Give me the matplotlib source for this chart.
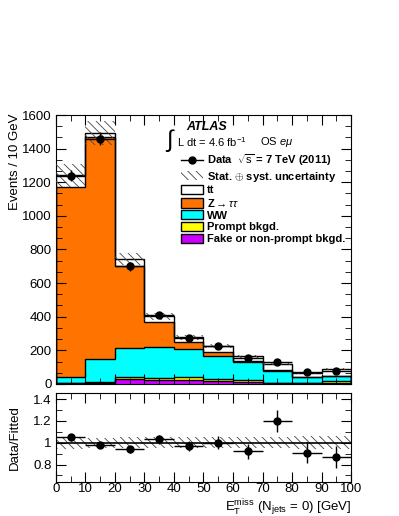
import numpy as np
import matplotlib
matplotlib.use("Agg")
import matplotlib.pyplot as plt
from matplotlib.patches import Patch
from matplotlib.lines import Line2D
from matplotlib.ticker import MultipleLocator, AutoMinorLocator

plt.rcParams['font.family'] = ['Liberation Sans', 'DejaVu Sans']
plt.rcParams['mathtext.fontset'] = 'custom'
plt.rcParams['mathtext.rm'] = 'Liberation Sans'
plt.rcParams['mathtext.it'] = 'Liberation Sans:italic'
plt.rcParams['hatch.linewidth'] = 0.6

# bin edges (GeV)
edges = np.arange(0, 110, 10)

# cumulative stack tops
fake = [4, 6, 28, 22, 26, 16, 10, 5, 3, 5]
prompt = [8, 10, 42, 34, 42, 30, 26, 8, 6, 20]
ww = [40, 148, 214, 218, 208, 168, 130, 79, 40, 46]
ztt = [1170, 1467, 699, 370, 247, 190, 138, 82, 42, 48]
ttbar = [1243, 1495, 743, 402, 277, 228, 164, 121, 65, 89]
unc_rel = [0.055, 0.047, 0.05, 0.05, 0.05, 0.05, 0.05, 0.05, 0.06, 0.06]

data = [1240, 1460, 700, 410, 272, 228, 155, 132, 68, 76]
ratio = [1.05, 0.98, 0.94, 1.03, 0.97, 1.00, 0.92, 1.20, 0.91, 0.87]
ratio_err = [0.03, 0.03, 0.03, 0.04, 0.05, 0.06, 0.07, 0.10, 0.10, 0.10]

fig = plt.figure(figsize=(3.99, 5.16), dpi=100)
ax = fig.add_axes([0.140, 0.256, 0.740, 0.521])
rax = fig.add_axes([0.140, 0.066, 0.740, 0.172])

layers = [(ttbar, 'white'), (ztt, '#ff7400'), (ww, '#00ffff'),
          (prompt, '#ffff00'), (fake, '#cc00ff')]
for vals, col in layers:
    ax.stairs(vals, edges, fill=True, color=col, zorder=1)
    ax.stairs(vals, edges, color='black', lw=1.0, zorder=2)

tot = np.array(ttbar, dtype=float)
err = tot * np.array(unc_rel)
ax.stairs(tot + err, edges, baseline=tot - err, fill=True, facecolor='none',
          edgecolor='#444444', hatch='\\\\\\\\', lw=0, zorder=3)

centers = 0.5 * (edges[:-1] + edges[1:])
ax.errorbar(centers, data, yerr=np.sqrt(data), xerr=5, fmt='o', color='black',
            ms=5, lw=1, capsize=0, zorder=5)

ax.set_xlim(0, 100)
ax.set_ylim(0, 1600)
ax.yaxis.set_major_locator(MultipleLocator(200))
ax.yaxis.set_minor_locator(AutoMinorLocator(3))
ax.xaxis.set_major_locator(MultipleLocator(10))
ax.xaxis.set_minor_locator(MultipleLocator(5))
ax.set_xticklabels([])

# ratio panel
rel = np.array(unc_rel)
rax.stairs(1 + rel, edges, baseline=1 - rel, fill=True, facecolor='none',
           edgecolor='#444444', hatch='\\\\\\\\', lw=0, zorder=1)
rax.axhline(1, color='black', lw=1.2, zorder=2)
rax.errorbar(centers, ratio, yerr=ratio_err, xerr=5, fmt='o', color='black',
             ms=5, lw=1, capsize=0, zorder=5)
rax.set_xlim(0, 100)
rax.set_ylim(0.64, 1.455)
rax.set_yticks([0.8, 1.0, 1.2, 1.4])
rax.set_yticklabels(['0.8', '1', '1.2', '1.4'])
rax.yaxis.set_minor_locator(MultipleLocator(0.1))
rax.xaxis.set_major_locator(MultipleLocator(10))
rax.xaxis.set_minor_locator(MultipleLocator(5))

for a in (ax, rax):
    a.tick_params(which='both', direction='in', top=True, right=True, labelsize=9.5)
    a.tick_params(which='major', length=7)
    a.tick_params(which='minor', length=4)
    a.tick_params(axis='x', pad=1)
    a.tick_params(axis='y', pad=3)
    for s in a.spines.values():
        s.set_linewidth(0.8)

# axis titles
fig.text(0.022, 0.781, 'Events / 10 GeV', rotation=90, ha='left', va='top', fontsize=9.5)
fig.text(0.022, 0.152, 'Data/Fitted', rotation=90, ha='left', va='center', fontsize=9.5)
fig.text(0.880, -0.003,
         r'$\mathrm{E}_{\mathrm{T}}^{\mathrm{miss}}$ ($\mathrm{N}_{\mathrm{jets}}$ = 0) [GeV]',
         ha='right', va='bottom', fontsize=9.5)

# labels
ax.text(0.44, 0.955, 'ATLAS', transform=ax.transAxes, fontsize=9,
        fontweight='bold', style='italic', va='center')
ax.text(0.37, 0.905, r'$\int$', transform=ax.transAxes, fontsize=17, va='center')
ax.text(0.41, 0.9, r'L dt = 4.6 fb$^{\mathrm{-1}}$', transform=ax.transAxes,
        fontsize=8, va='center')
ax.text(0.69, 0.9, r'OS $e\mu$', transform=ax.transAxes, fontsize=8, va='center')

handles = [
    Line2D([], [], color='black', marker='o', ms=5, lw=1),
    Patch(facecolor='white', edgecolor='#444444', hatch='\\\\\\\\', lw=0),
    Patch(facecolor='white', edgecolor='black'),
    Patch(facecolor='#ff7400', edgecolor='black'),
    Patch(facecolor='#00ffff', edgecolor='black'),
    Patch(facecolor='#ffff00', edgecolor='black'),
    Patch(facecolor='#cc00ff', edgecolor='black'),
]
labels = [r'Data  $\sqrt{\mathrm{s}}$ = 7 TeV (2011)', r'Stat. $\oplus$ syst. uncertainty',
          'tt', r'Z$\rightarrow\tau\tau$', 'WW', 'Prompt bkgd.',
          'Fake or non-prompt bkgd.']
leg = ax.legend(handles, labels, loc='upper left', bbox_to_anchor=(0.40, 0.885),
                frameon=False, prop={'weight': 'bold', 'size': 8},
                handlelength=2.0, handleheight=0.9, handletextpad=0.4,
                labelspacing=0.12, borderpad=0.1)

fig.savefig('out.png', dpi=100)
